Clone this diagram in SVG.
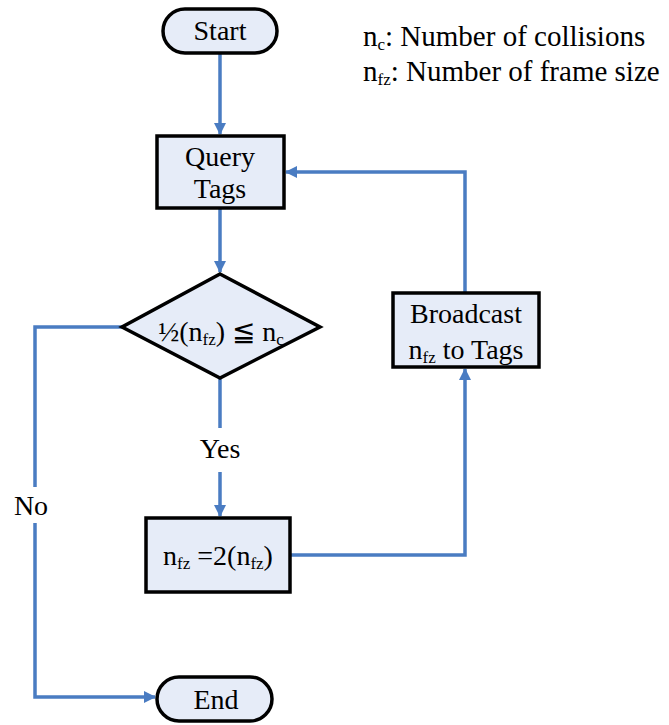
<svg xmlns="http://www.w3.org/2000/svg" width="669" height="725" viewBox="0 0 669 725">
<style>
.node{fill:#E6ECF8;stroke:#000;stroke-width:3.5}
.t{font-family:'Liberation Serif','Times New Roman',Tinos,'DejaVu Serif',serif;font-size:28px;fill:#000}
.lg{font-size:29px}
.s{font-size:17px}
.c{fill:none;stroke:#4A7CC2;stroke-width:3.5}
</style>
<defs>
<marker id="ah" viewBox="0 0 12 12" refX="11" refY="6" markerWidth="12" markerHeight="12" markerUnits="userSpaceOnUse" orient="auto">
<path d="M0,0 L12,6 L0,12 Z" fill="#4A7CC2"/>
</marker>
</defs>
<g id="connectors">
<path class="c" d="M220,53 V134" marker-end="url(#ah)"/>
<path class="c" d="M220,209 V272" marker-end="url(#ah)"/>
<path class="c" d="M220,379 V428 M220,472 V516" marker-end="url(#ah)"/>
<path class="c" d="M290,555 H465 V369" marker-end="url(#ah)"/>
<path class="c" d="M465,292 V172 H286" marker-end="url(#ah)"/>
<path class="c" d="M122,327 H35 V487"/>
<path class="c" d="M35,523 V697 H155" marker-end="url(#ah)"/>
<text class="t" x="220" y="458" text-anchor="middle">Yes</text>
<text class="t" x="31" y="515" text-anchor="middle">No</text>
</g>
<g id="start">
<rect class="node" x="163" y="9" width="114" height="44" rx="22"/>
<text class="t" x="220" y="40" text-anchor="middle">Start</text>
</g>
<g id="query">
<rect class="node" x="157" y="136" width="127" height="72"/>
<text class="t" x="220" y="166" text-anchor="middle">Query</text>
<text class="t" x="220" y="198" text-anchor="middle">Tags</text>
</g>
<g id="decision">
<path class="node" d="M220,274 L320,327 L220,378 L122,327 Z"/>
<text class="t" x="221" y="341" text-anchor="middle">½(n<tspan class="s" dy="4">fz</tspan><tspan dy="-4">) ≦ n</tspan><tspan class="s" dy="4">c</tspan></text>
</g>
<g id="broadcast">
<rect class="node" x="393" y="293" width="146" height="74"/>
<text class="t" x="466" y="323" text-anchor="middle">Broadcast</text>
<text class="t" x="466" y="359" text-anchor="middle">n<tspan class="s" dy="4">fz</tspan><tspan dy="-4"> to Tags</tspan></text>
</g>
<g id="update">
<rect class="node" x="146" y="518" width="144" height="74"/>
<text class="t" x="218" y="565" text-anchor="middle">n<tspan class="s" dy="4">fz</tspan><tspan dy="-4"> =2(n</tspan><tspan class="s" dy="4">fz</tspan><tspan dy="-4">)</tspan></text>
</g>
<g id="end">
<rect class="node" x="157" y="677" width="115" height="44" rx="22"/>
<text class="t" x="216" y="709" text-anchor="middle">End</text>
</g>
<g id="legend">
<text class="t lg" x="363" y="46">n<tspan class="s" dy="4">c</tspan><tspan dy="-4">: Number of collisions</tspan></text>
<text class="t lg" x="363" y="81">n<tspan class="s" dy="4">fz</tspan><tspan dy="-4">: Number of frame size</tspan></text>
</g>
</svg>
